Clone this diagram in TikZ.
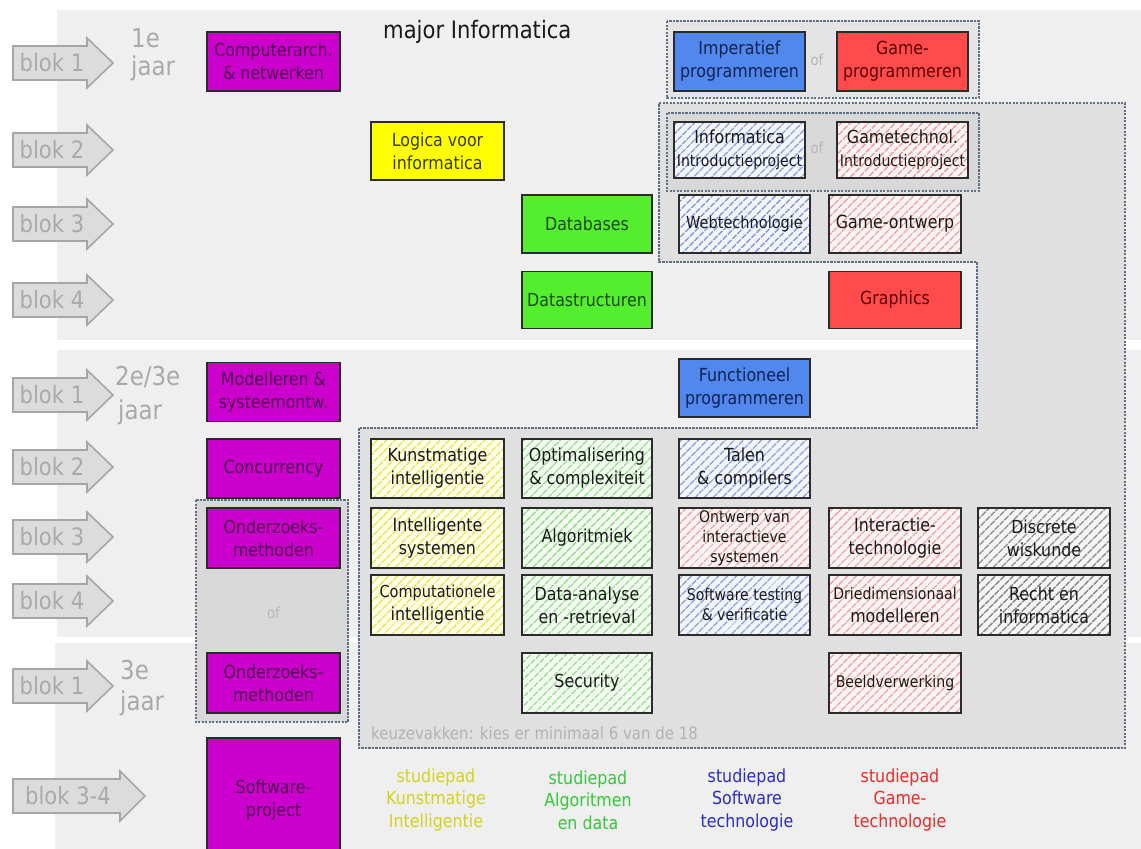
\documentclass[tikz,border=0pt]{standalone}
\usepackage{fontspec}
\setmainfont{DejaVu Sans}[FakeStretch=0.88]
\usetikzlibrary{patterns.meta}
\definecolor{panelgray}{HTML}{EFEFEF}
\definecolor{regiongray}{HTML}{E0E0E0}
\definecolor{grpa}{HTML}{E4E4E4}
\definecolor{grpb}{HTML}{D9D9D9}
\definecolor{dashc}{HTML}{5F6F85}
\definecolor{arrfill}{HTML}{DCDCDC}
\definecolor{arrline}{HTML}{A6A6A6}
\definecolor{arrtext}{HTML}{A9A9A9}
\definecolor{boxline}{HTML}{2B2B2B}
\definecolor{magfill}{HTML}{CC00CC}
\definecolor{magtext}{HTML}{4E004E}
\definecolor{yelfill}{HTML}{FFFF00}
\definecolor{yeltext}{HTML}{3A3A00}
\definecolor{grnfill}{HTML}{55EE2E}
\definecolor{grntext}{HTML}{1B4A0C}
\definecolor{blufill}{HTML}{5287EE}
\definecolor{blutext}{HTML}{0E2350}
\definecolor{redfill}{HTML}{FF4B4B}
\definecolor{redtext}{HTML}{5C0000}
\definecolor{htext}{HTML}{1A1A1A}
\definecolor{hyb}{HTML}{FFFFE6}
\definecolor{hyc}{HTML}{E4E45C}
\definecolor{hgb}{HTML}{F2FFF0}
\definecolor{hgc}{HTML}{9ADB90}
\definecolor{hbb}{HTML}{F4F6FF}
\definecolor{hbc}{HTML}{8E9DE6}
\definecolor{hrb}{HTML}{FFF4F4}
\definecolor{hrc}{HTML}{F0A2A2}
\definecolor{hkb}{HTML}{F5F5F5}
\definecolor{hkc}{HTML}{8E8E8E}
\definecolor{ofc}{HTML}{B6B6B6}
\definecolor{keuzec}{HTML}{B2B2B2}
\definecolor{legy}{HTML}{D2D21E}
\definecolor{legg}{HTML}{33C83A}
\definecolor{legb}{HTML}{2B2BC8}
\definecolor{legr}{HTML}{EE2A2A}
\newcommand\boxfont{\fontsize{18}{23}\selectfont}
\newcommand\smallbox{\fontsize{16}{20}\selectfont}
\newcommand\blokarrow[6]{%
  \draw[arr] (13,#1-17) -- (#2,#1-17) -- (#2,#1-25) -- (#3,#1) -- (#2,#1+25) -- (#2,#1+17) -- (13,#1+17) -- cycle;
  \node[bloktext] (#4) at (#6,#1) {#5};}
\begin{document}
\begin{tikzpicture}[x=1pt,y=-1pt,
  grp/.style={draw=dashc, line width=1.3pt, dash pattern=on 2.2pt off 1.3pt},
  arr/.style={fill=arrfill, draw=arrline, line width=1.6pt, line join=miter},
  bloktext/.style={text=arrtext, font=\fontsize{24}{28}\selectfont, inner sep=0pt},
  yeartext/.style={text=arrtext, font=\fontsize{26}{30}\selectfont, inner sep=0pt, anchor=west},
  cbox/.style={draw=boxline, line width=1.9pt, minimum width=131pt, minimum height=58pt, inner sep=0pt, align=center, font=\boxfont},
  mag/.style={cbox, fill=magfill, text=magtext},
  yel/.style={cbox, fill=yelfill, text=yeltext},
  grn/.style={cbox, fill=grnfill, text=grntext},
  blu/.style={cbox, fill=blufill, text=blutext},
  rd/.style={cbox, fill=redfill, text=redtext},
  hatch/.style={cbox, text=htext, preaction={fill=#1b}, pattern={Lines[angle=45,distance=6.5pt,line width=1.6pt]}, pattern color=#1c},
  hy/.style={hatch=hy},
  hg/.style={hatch=hg},
  hb/.style={hatch=hb},
  hr/.style={hatch=hr},
  hk/.style={hatch=hk},
  oftext/.style={text=ofc, font=\fontsize{15}{17}\selectfont, inner sep=0pt},
  legend/.style={align=center, font=\fontsize{18}{22.5}\selectfont, inner sep=0pt}
]
\useasboundingbox (0,0) rectangle (1141,849);
\fill[white] (0,0) rectangle (1141,849);
% panels
\fill[panelgray] (57,10) rectangle (1141,340);
\fill[panelgray] (57,350) rectangle (1141,637);
\fill[panelgray] (55,643) rectangle (1141,849);
% groups
\filldraw[grp, fill=regiongray] (659,103) -- (1125,103) -- (1125,748) -- (359,748) -- (359,428) -- (977,428) -- (977,262) -- (659,262) -- cycle;
\filldraw[grp, fill=grpa] (667,21) rectangle (979,98);
\filldraw[grp, fill=grpb] (667,113) rectangle (979,191);
\filldraw[grp, fill=grpb] (196,500) rectangle (348,722);
% arrows
\blokarrow{63}{87}{113}{a1}{blok 1}{52}
\blokarrow{150}{87}{113}{a2}{blok 2}{52}
\blokarrow{224}{87}{113}{a3}{blok 3}{52}
\blokarrow{300}{87}{113}{a4}{blok 4}{52}
\blokarrow{395}{87}{113}{b1}{blok 1}{52}
\blokarrow{467}{87}{113}{b2}{blok 2}{52}
\blokarrow{537}{87}{113}{b3}{blok 3}{52}
\blokarrow{601}{87}{113}{b4}{blok 4}{52}
\blokarrow{686}{87}{113}{c1}{blok 1}{52}
\blokarrow{796}{120}{145}{c34}{blok 3-4}{68}
% year labels
\node[yeartext] (y1a) at (131,38) {1e};
\node[yeartext] (y1b) at (131,68) {jaar};
\node[yeartext] (y2a) at (115,377) {2e/3e};
\node[yeartext] (y2b) at (118,412) {jaar};
\node[yeartext] (y3a) at (120,670) {3e};
\node[yeartext] (y3b) at (120,703) {jaar};
% title
\node[anchor=west, inner sep=0pt, text=black!90, font=\fontsize{24}{28}\selectfont] (title) at (383,32) {major Informatica};
% of labels
\node[oftext] (of1) at (817,60) {of};
\node[oftext] (of2) at (817,148) {of};
\node[oftext] (of3) at (273.5,613) {of};
% courses
\node[mag, minimum width=133pt, minimum height=59pt] (comp) at (273.5,61.5) {Computerarch.\\\& netwerken};
\node[yel, minimum width=133pt] (logica) at (437.5,151) {Logica voor\\informatica};
\node[grn, minimum width=130pt] (db) at (587,224) {Databases};
\node[grn, minimum width=130pt, minimum height=57pt] (ds) at (587,300) {Datastructuren};
\node[blu, minimum height=59pt] (imp) at (739.5,61.5) {Imperatief\\programmeren};
\node[rd, minimum height=59pt] (gprog) at (902.5,61.5) {Game-\\programmeren};
\node[hb, minimum height=56pt] (iintro) at (739.5,150) {Informatica\\{\smallbox Introductieproject}};
\node[hr, minimum height=56pt] (gintro) at (902.5,150) {Gametechnol.\\{\smallbox Introductieproject}};
\node[hb] (web) at (744.5,224) {{\fontsize{16.5}{20}\selectfont Webtechnologie}};
\node[hr, minimum width=132pt] (gont) at (895,224) {Game-ontwerp};
\node[rd, minimum width=132pt, minimum height=57pt] (graph) at (895,300) {Graphics};
\node[mag, minimum width=133pt, minimum height=59pt] (model) at (273.5,392) {Modelleren \&\\systeemontw.};
\node[blu] (func) at (744.5,388) {Functioneel\\programmeren};
\node[mag, minimum width=133pt, minimum height=59pt] (conc) at (273.5,468.5) {Concurrency};
\node[hy, minimum width=133pt, minimum height=59pt] (ki) at (437.5,468.5) {Kunstmatige\\intelligentie};
\node[hg, minimum width=130pt, minimum height=59pt] (opt) at (587,468.5) {Optimalisering\\\& complexiteit};
\node[hb, minimum height=59pt] (talen) at (744.5,468.5) {Talen\\\& compilers};
\node[mag, minimum width=133pt, minimum height=60pt] (ond1) at (273.5,538) {Onderzoeks-\\methoden};
\node[hy, minimum width=133pt, minimum height=60pt] (is) at (437.5,538) {Intelligente\\systemen};
\node[hg, minimum width=130pt, minimum height=60pt] (algo) at (587,538) {Algoritmiek};
\node[hr, minimum height=60pt, font=\smallbox] (ontw) at (744.5,538) {Ontwerp van\\interactieve\\systemen};
\node[hr, minimum width=132pt, minimum height=60pt] (inter) at (895,538) {Interactie-\\technologie};
\node[hk, minimum width=132pt, minimum height=60pt] (discr) at (1044,538) {Discrete\\wiskunde};
\node[hy, minimum width=133pt, minimum height=60pt] (ci) at (437.5,605) {{\fontsize{16.5}{20}\selectfont Computationele}\\intelligentie};
\node[hg, minimum width=130pt, minimum height=60pt] (data) at (587,605) {Data-analyse\\en -retrieval};
\node[hb, minimum height=60pt, font=\smallbox] (test) at (744.5,605) {Software testing\\\& verificatie};
\node[hr, minimum width=132pt, minimum height=60pt] (drie) at (895,605) {{\smallbox Driedimensionaal}\\modelleren};
\node[hk, minimum width=132pt, minimum height=60pt] (recht) at (1044,605) {Recht en\\informatica};
\node[mag, minimum width=133pt, minimum height=60pt] (ond2) at (273.5,683) {Onderzoeks-\\methoden};
\node[hg, minimum width=130pt, minimum height=60pt] (sec) at (587,683) {Security};
\node[hr, minimum width=132pt, minimum height=60pt] (beeld) at (895,683) {{\smallbox Beeldverwerking}};
\node[mag, minimum width=133pt, minimum height=124pt] (sp) at (273.5,800) {Software-\\project};
% keuzevakken
\node[anchor=west, inner sep=0pt, text=keuzec, font=\fontsize{17}{20}\selectfont] (keuze) at (371,733) {keuzevakken: kies er minimaal 6 van de 18};
% legend
\node[legend, text=legy] (ly) at (436,800) {studiepad\\Kunstmatige\\Intelligentie};
\node[legend, text=legg] (lg) at (588,800) {studiepad\\Algoritmen\\en data};
\node[legend, text=legb] (lb) at (747,800) {studiepad\\Software\\technologie};
\node[legend, text=legr] (lr) at (900,800) {studiepad\\Game-\\technologie};
\end{tikzpicture}
\end{document}
